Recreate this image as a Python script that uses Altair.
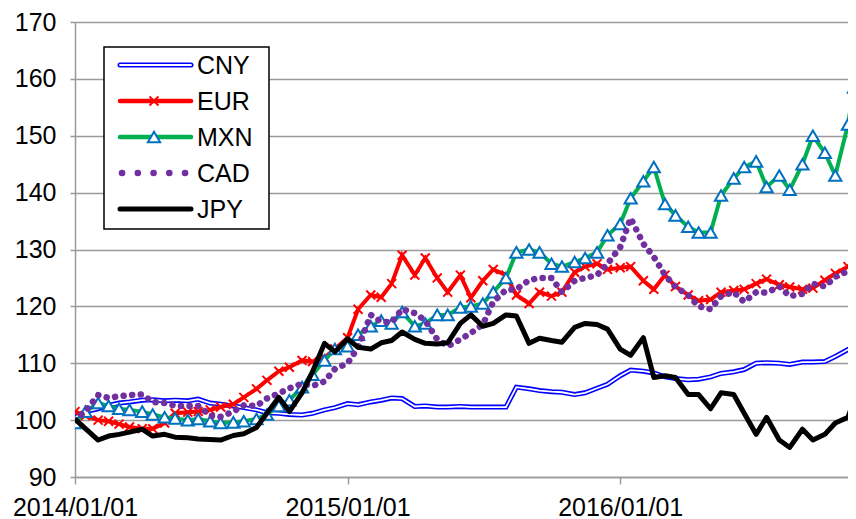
import altair as alt
import pandas as pd

# semi-monthly observation dates (1st and 15th), last one at the right edge
dates = [f"{y}-{m:02d}-{d:02d}" for y in (2014, 2015, 2016) for m in range(1, 13)
         for d in (1, 15) if not (y == 2016 and m > 10)] + ["2016-11-01", "2016-11-09"]

series_names = ["CNY", "EUR", "MXN", "CAD", "JPY"]

cny = [100.5, 101.5, 102.0, 102.6, 103.0, 103.2, 103.5, 103.6, 103.4, 103.5, 103.4, 103.7,
       103.0, 102.8, 102.5, 102.2, 101.8, 101.3, 101.2, 101.0, 100.9, 101.2, 101.8, 102.2,
       102.9, 102.7, 103.2, 103.5, 103.9, 103.8, 102.4, 102.5, 102.3, 102.3, 102.4, 102.3,
       102.3, 102.3, 102.3, 105.8, 105.5, 105.2, 105.0, 104.9, 104.5, 104.8, 105.6, 106.3,
       107.8, 108.8, 108.6, 108.3, 107.6, 107.3, 107.1, 107.2, 107.6, 108.2, 108.5, 108.9,
       110.0, 110.1, 110.0, 109.8, 110.2, 110.2, 110.3, 111.2, 112.4, 112.9]
eur = [101.5, 100.8, 100.0, 99.8, 99.3, 98.8, 98.5, 98.5, 99.5, 101.2, 101.4, 101.5,
       101.8, 102.3, 102.8, 104.0, 105.5, 107.0, 108.6, 109.3, 110.5, 110.3, 111.0, 112.5,
       114.5, 119.5, 122.0, 121.6, 124.0, 129.0, 125.5, 128.5, 125.0, 122.5, 125.5, 121.5,
       124.5, 126.5, 125.5, 122.0, 120.5, 122.5, 121.8, 122.5, 126.0, 127.0, 127.5, 126.5,
       126.8, 127.0, 124.5, 123.0, 125.5, 123.5, 122.0, 121.0, 121.2, 122.5, 122.8, 123.0,
       124.0, 124.8, 123.8, 123.4, 123.0, 123.2, 124.6, 125.8, 127.0, 128.0]
mxn = [99.5, 101.5, 103.0, 102.5, 102.0, 101.8, 101.5, 101.0, 100.5, 100.3, 100.0, 100.2,
       99.8, 99.5, 99.6, 99.8, 100.2, 101.0, 102.5, 103.5, 105.8, 108.0, 110.5, 112.5,
       113.0, 115.0, 116.5, 117.5, 117.0, 119.0, 116.5, 117.0, 118.5, 118.5, 119.8, 120.0,
       120.5, 122.5, 125.0, 129.5, 130.0, 129.5, 127.5, 127.0, 127.8, 128.5, 129.5, 132.5,
       134.5, 139.0, 142.0, 144.5, 138.0, 136.0, 134.0, 133.0, 133.0, 139.5, 142.5, 144.5,
       145.5, 141.0, 143.0, 140.5, 145.0, 150.0, 147.0, 143.0, 152.0, 158.5]
cad = [100.0, 101.6, 104.4, 103.9, 104.2, 104.4, 104.5, 103.2, 103.0, 102.5, 102.5, 102.5,
       100.8, 100.6, 101.5, 102.6, 102.5, 103.8, 104.7, 105.6, 106.4, 106.0, 106.8, 109.0,
       110.0, 112.8, 118.5, 117.3, 117.2, 119.5, 118.8, 117.5, 114.2, 113.0, 114.2, 115.3,
       116.8, 120.8, 122.9, 123.0, 124.6, 125.0, 125.0, 122.5, 124.5, 125.0, 125.5, 127.5,
       130.4, 135.5, 131.0, 128.7, 125.5, 123.4, 122.0, 120.0, 119.5, 121.8, 122.5, 120.8,
       122.5, 122.4, 123.5, 121.8, 122.2, 124.0, 123.5, 125.2, 126.2, 127.0]
jpy = [100.2, 98.5, 96.5, 97.2, 97.5, 97.9, 98.4, 97.2, 97.5, 97.0, 96.9, 96.7,
       96.6, 96.5, 97.3, 97.6, 98.7, 101.2, 104.0, 101.5, 104.8, 108.5, 113.5, 112.0,
       114.3, 112.8, 112.5, 113.6, 114.0, 115.5, 114.2, 113.5, 113.4, 113.6, 117.0, 118.5,
       116.5, 117.0, 118.5, 118.3, 113.5, 114.4, 114.0, 113.7, 116.3, 117.0, 116.8, 116.0,
       112.5, 111.4, 114.5, 107.5, 107.8, 107.5, 104.5, 104.5, 102.0, 104.8, 104.5, 101.2,
       97.5, 100.5, 96.5, 95.2, 98.4, 96.5, 97.5, 99.5, 100.5, 103.5]

y_ticks = [90, 100, 110, 120, 130, 140, 150, 160, 170]

df = pd.DataFrame({"date": dates, "CNY": cny, "EUR": eur, "MXN": mxn, "CAD": cad, "JPY": jpy})
long = df.melt(id_vars="date", var_name="series", value_name="value")

FONT = "Liberation Sans"
GRID = "#9a9a9a"

def dt(y, m, d):
    return alt.DateTime(year=y, month=m, date=d, utc=True)

X = alt.X("date:T",
          scale=alt.Scale(type="utc", domain=[dt(2014, 1, 1), dt(2016, 11, 1)]),
          axis=alt.Axis(values=[dt(2014, 1, 1), dt(2015, 1, 1), dt(2016, 1, 1)],
                        labelExpr="utcFormat(datum.value, '%Y/%m/%d')",
                        grid=False, domainColor=GRID, domainWidth=1.5,
                        tickColor=GRID, tickWidth=1.5, tickSize=7,
                        labelFont=FONT, labelFontSize=25, labelColor="black",
                        labelPadding=11, labelFlush=False, labelOverlap=False, title=None))
Y = alt.Y("value:Q",
          scale=alt.Scale(domain=[90, 170], nice=False, zero=False),
          axis=alt.Axis(values=y_ticks, grid=True, gridColor=GRID, gridWidth=1.5,
                        domainColor=GRID, domainWidth=1.5, tickColor=GRID, tickWidth=1.5,
                        tickSize=5, labelFont=FONT, labelFontSize=25, labelColor="black",
                        labelPadding=14, title=None))

def sel(name):
    return alt.Chart(long).transform_filter(alt.datum.series == name)

XPATH = "M-1,-1L1,1M-1,1L1,-1"

layers = [
    sel("CNY").mark_line(color="#0000FF", strokeWidth=5, clip=True).encode(x=X, y=Y),
    sel("CNY").mark_line(color="white", strokeWidth=1.8, clip=True).encode(x=X, y=Y),
    sel("EUR").mark_line(color="#FF0000", strokeWidth=4, clip=True).encode(x=X, y=Y),
    sel("EUR").mark_point(shape=XPATH, filled=False, color="#FF0000", strokeWidth=2,
                          size=80, opacity=1, clip=True).encode(x=X, y=Y),
    sel("MXN").mark_line(color="#00B050", strokeWidth=4, clip=True).encode(x=X, y=Y),
    sel("MXN").mark_point(shape="triangle-up", filled=True, fill="white", stroke="#0070C0",
                          strokeWidth=2, size=150, opacity=1, clip=True).encode(x=X, y=Y),
    sel("CAD").mark_line(color="#7030A0", strokeWidth=6.5, strokeDash=[0.1, 8.5],
                         strokeCap="round", clip=True).encode(x=X, y=Y),
    sel("JPY").mark_line(color="black", strokeWidth=5, strokeJoin="round",
                         clip=True).encode(x=X, y=Y),
]

# legend box and entries (pixel positions inside the plot area)
legend_df = pd.DataFrame({"series": series_names, "row": list(range(5))})
layers.append(
    alt.Chart(legend_df).transform_filter(alt.datum.row == 0)
    .mark_rect(fill="white", stroke="black", strokeWidth=1.5)
    .encode(x=alt.value(29), x2=alt.value(194), y=alt.value(25), y2=alt.value(207))
)

def leg(i):
    return alt.Chart(legend_df).transform_filter(alt.datum.row == i)

row_y = [43 + 36 * i for i in range(5)]
lx1, lx2, lmid = 45, 116, 79

layers += [
    leg(0).mark_rule(color="#0000FF", strokeWidth=5, strokeCap="round")
        .encode(x=alt.value(lx1), x2=alt.value(lx2), y=alt.value(row_y[0])),
    leg(0).mark_rule(color="white", strokeWidth=1.8, strokeCap="round")
        .encode(x=alt.value(lx1), x2=alt.value(lx2), y=alt.value(row_y[0])),
    leg(1).mark_rule(color="#FF0000", strokeWidth=4.5, strokeCap="round")
        .encode(x=alt.value(lx1), x2=alt.value(lx2), y=alt.value(row_y[1])),
    leg(1).mark_point(shape=XPATH, filled=False, color="#FF0000", strokeWidth=2, size=80, opacity=1)
        .encode(x=alt.value(lmid), y=alt.value(row_y[1])),
    leg(2).mark_rule(color="#00B050", strokeWidth=4.5, strokeCap="round")
        .encode(x=alt.value(lx1), x2=alt.value(lx2), y=alt.value(row_y[2])),
    leg(2).mark_point(shape="triangle-up", filled=True, fill="white", stroke="#0070C0",
                      strokeWidth=2, size=150, opacity=1)
        .encode(x=alt.value(lmid), y=alt.value(row_y[2])),
    leg(3).mark_rule(color="#7030A0", strokeWidth=6.5, strokeCap="round", strokeDash=[0.1, 15.65])
        .encode(x=alt.value(47), x2=alt.value(111), y=alt.value(row_y[3])),
    leg(4).mark_rule(color="black", strokeWidth=5, strokeCap="round")
        .encode(x=alt.value(lx1), x2=alt.value(lx2), y=alt.value(row_y[4])),
]
for i in range(5):
    layers.append(
        leg(i).mark_text(align="left", baseline="middle", font=FONT, fontSize=25, color="black")
        .encode(text="series:N", x=alt.value(122), y=alt.value(row_y[i] + 1))
    )

chart = alt.layer(*layers).properties(
    width=773, height=455,
    autosize=alt.AutoSizeParams(type="none"),
    padding={"left": 67, "top": 14, "right": 0, "bottom": 42},
    background="white",
).configure_view(stroke=None)

chart.save("out.html", embed_options={"renderer": "svg", "actions": False})
